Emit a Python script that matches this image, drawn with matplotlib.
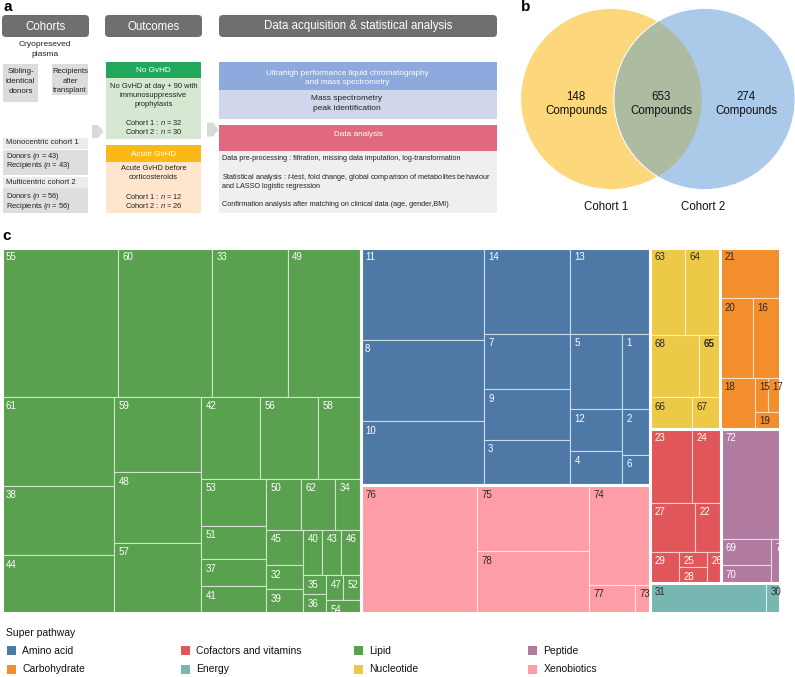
import matplotlib.pyplot as plt
from matplotlib.patches import Rectangle, Circle, FancyBboxPatch, Polygon

plt.rcParams['font.family'] = ['Liberation Sans', 'DejaVu Sans']
plt.rcParams['mathtext.fontset'] = 'custom'
plt.rcParams['mathtext.rm'] = 'Liberation Sans'
plt.rcParams['mathtext.it'] = 'Liberation Sans:italic'

W, H = 795, 677

# panel b : compounds detected per cohort
venn_counts = [148, 653, 274]
venn_names = ['Cohort 1', 'Cohort 2']

# panel c : number of compounds per sub pathway, grouped by super pathway
pathways = ['Lipid', 'Amino acid', 'Xenobiotics', 'Nucleotide', 'Carbohydrate',
            'Cofactors and vitamins', 'Peptide', 'Energy']
sub_ids = [
    [55, 60, 33, 49, 61, 38, 44, 59, 48, 57, 42, 56, 58, 53, 51, 37, 41, 50, 62, 34,
     45, 32, 39, 40, 43, 46, 35, 36, 47, 52, 54],
    [11, 8, 10, 14, 13, 7, 9, 3, 5, 1, 12, 4, 2, 6],
    [76, 75, 78, 74, 77, 73],
    [63, 64, 68, 65, 66, 67],
    [21, 20, 16, 18, 15, 17, 19],
    [23, 24, 27, 22, 29, 25, 28, 26],
    [72, 69, 70, 71],
    [31, 30],
]
sub_counts = [
    [40, 32, 26, 25, 23, 18, 15, 15, 14, 14, 11, 11, 8, 7, 5, 4, 4, 4, 4, 3,
     3, 2, 2, 2, 2, 2, 1, 1, 1, 1, 1],
    [26, 23, 18, 17, 16, 11, 10, 9, 9, 5, 5, 4, 3, 2],
    [34, 17, 16, 14, 3, 1],
    [7, 7, 7, 3, 3, 2],
    [7, 6, 5, 4, 1, 1, 1],
    [7, 5, 5, 3, 2, 1, 1, 1],
    [15, 3, 2, 1],
    [8, 1],
]
legend_order = ['Amino acid', 'Carbohydrate', 'Cofactors and vitamins', 'Energy',
                'Lipid', 'Nucleotide', 'Peptide', 'Xenobiotics']

colors = {'Amino acid': '#4E79A7', 'Carbohydrate': '#F28E2B',
          'Cofactors and vitamins': '#E15759', 'Energy': '#76B7B2',
          'Lipid': '#59A14F', 'Nucleotide': '#EDC948', 'Peptide': '#B07AA1',
          'Xenobiotics': '#FF9DA7'}
dark_labels = {'Xenobiotics', 'Nucleotide', 'Carbohydrate', 'Energy'}

PHI = (1 + 5 ** 0.5) / 2


def squarify(values, x0, y0, x1, y1, ratio=PHI):
    # squarified treemap with golden ratio target (as d3.treemapSquarify)
    rects = []
    value = float(sum(values))
    i0, n = 0, len(values)
    while i0 < n:
        dx, dy = x1 - x0, y1 - y0
        s = values[i0]
        vmin = vmax = s
        alpha = max(dy / dx, dx / dy) / (value * ratio)
        beta = s * s * alpha
        min_ratio = max(vmax / beta, beta / vmin)
        i1 = i0 + 1
        while i1 < n:
            v = values[i1]
            s2 = s + v
            lo, hi = min(vmin, v), max(vmax, v)
            beta = s2 * s2 * alpha
            r = max(hi / beta, beta / lo)
            if r > min_ratio:
                break
            s, vmin, vmax, min_ratio = s2, lo, hi, r
            i1 += 1
        row = values[i0:i1]
        if dx < dy:
            h = dy * s / value
            xx = x0
            for v in row:
                w = dx * v / s
                rects.append((xx, y0, w, h))
                xx += w
            y0 += h
        else:
            w = dx * s / value
            yy = y0
            for v in row:
                hh = dy * v / s
                rects.append((x0, yy, w, hh))
                yy += hh
            x0 += w
        value -= s
        i0 = i1
    return rects


fig = plt.figure(figsize=(W / 100, H / 100), dpi=100)
ax = fig.add_axes([0, 0, 1, 1])
ax.set_xlim(0, W)
ax.set_ylim(H, 0)
ax.axis('off')


def box(x0, y0, x1, y1, fc, rnd=0):
    if rnd:
        p = FancyBboxPatch((x0, y0), x1 - x0, y1 - y0,
                           boxstyle=f'round,pad=0,rounding_size={rnd}', fc=fc, ec='none')
    else:
        p = Rectangle((x0, y0), x1 - x0, y1 - y0, fc=fc, ec='none')
    ax.add_patch(p)


def txt(x, y, s, size=5.4, color='#222222', ha='center', **kw):
    ax.text(x, y, s, fontsize=size, color=color, ha=ha, va='center', **kw)


# ---- panel a
for x0, x1, title in [(2, 89, 'Cohorts'), (105, 202, 'Outcomes'),
                      (219, 497, 'Data acquisition & statistical analysis')]:
    box(x0, 15, x1, 37, '#6f6f6f', rnd=4)
    txt((x0 + x1) / 2, 26.5, title, size=8.3, color='white')

txt(45, 45, 'Cryopreseved', size=6)
txt(45, 55, 'plasma', size=6)
box(3, 64, 38, 101.5, '#dcdcdc')
for y, s in zip([71.7, 81.7, 91.7], ['Sibling-', 'identical', 'donors']):
    txt(20.5, y, s, size=5.8)
box(52, 64, 88, 95, '#dcdcdc')
for y, s in zip([71.7, 81.2, 90], ['Recipients', 'after', 'transplant']):
    txt(70, y, s, size=5.5)

box(3, 138, 88, 149, '#ececec')
txt(5.7, 143, 'Monocentric cohort 1', size=5.6, ha='left')
box(3, 149.5, 88, 175, '#dedede')
txt(5.7, 156, 'Donors ($n$ = 43)', size=5.4, ha='left')
txt(5.7, 165.5, 'Recipients ($n$ = 43)', size=5.4, ha='left')
box(3, 176.5, 88, 187.5, '#ececec')
txt(5.7, 182.5, 'Multicentric cohort 2', size=5.6, ha='left')
box(3, 188, 88, 213, '#dedede')
txt(5.7, 196.8, 'Donors ($n$ = 56)', size=5.4, ha='left')
txt(5.7, 206.3, 'Recipients ($n$ = 56)', size=5.4, ha='left')

ax.add_patch(Polygon([(92, 125), (98, 125), (103.5, 131.5), (98, 138), (92, 138)],
                     fc='#d9d9d9', ec='none'))
ax.add_patch(Polygon([(207, 122.5), (213, 122.5), (218.5, 129.5), (213, 136.5), (207, 136.5)],
                     fc='#d9d9d9', ec='none'))

box(106, 62, 201, 78, '#21a95b')
txt(153.5, 70.5, 'No GvHD', size=5.9, color='white')
box(106, 78, 201, 139, '#d6e8d1')
for y, s in zip([86, 95.2, 104.3], ['No GvHD at day + 90 with', 'immunosuppressive', 'prophylaxis']):
    txt(153.5, y, s)
txt(154, 122.7, 'Cohort 1 : $n$ = 32')
txt(154, 132, 'Cohort 2 : $n$ = 30')
box(106, 145, 201, 162, '#fbb917')
txt(153.5, 154, 'Acute GvHD', size=5.9, color='white')
box(106, 162, 201, 213, '#fde6cd')
txt(153.5, 168.3, 'Acute GvHD before')
txt(153.5, 177.7, 'corticosteroids')
txt(154, 196.7, 'Cohort 1 : $n$ = 12')
txt(154, 206, 'Cohort 2 : $n$ = 26')

box(219, 62, 497, 90, '#8da9dd')
txt(347, 73.3, 'Ultrahigh performance liquid chromatography', size=5.9, color='white')
txt(347, 82.7, 'and mass spectrometry', size=5.9, color='white')
box(219, 90, 497, 119, '#d0d6eb')
txt(347, 98.7, 'Mass spectrometry', size=6)
txt(347, 108, 'peak identification', size=6)
box(219, 125, 497, 151, '#e0687f')
txt(358, 135, 'Data analysis', size=5.9, color='white')
box(219, 151, 497, 213, '#efefef')
txt(222, 159, 'Data pre-processing : filtration, missing data imputation, log-transformation',
    size=5.2, ha='left')
txt(222, 177.3, 'Statistical analysis : $t$-test, fold change, global comparison of metabolites behaviour',
    size=5.2, ha='left')
txt(222, 186.7, 'and LASSO logistic regression', size=5.2, ha='left')
txt(222, 205, 'Confirmation analysis after matching on clinical data (age, gender,BMI)',
    size=5.2, ha='left')

# ---- panel b
r = 90.5
c1 = Circle((611.2, 99), r, fc='#FDD77C', ec='white', lw=0.6)
c2 = Circle((704.5, 99), r, fc='#ABC9E8', ec='white', lw=0.6)
ax.add_patch(c1)
ax.add_patch(c2)
ov = Circle((704.5, 99), r, fc='#ADBBA1', ec='white', lw=0.6)
ax.add_patch(ov)
ov.set_clip_path(c1)
for xc, n in zip([576, 661.5, 746], venn_counts):
    txt(xc, 96.5, str(n), size=8.3, color='#111111')
    txt(xc, 111, 'Compounds', size=8.3, color='#111111')
for xc, name in zip([606, 703], venn_names):
    txt(xc, 207, name, size=8.3, color='#111111')

# panel letters
for x, y, s in [(3, 7, 'a'), (521, 7, 'b'), (2, 236, 'c')]:
    txt(x, y, s, size=11, color='black', ha='left', fontweight='bold')

# ---- panel c : treemap
tx0, tx1, ty0, ty1 = 1.5, 780.5, 247.5, 613
axc = fig.add_axes([tx0 / W, 1 - ty1 / H, (tx1 - tx0) / W, (ty1 - ty0) / H])
axc.set_xlim(0, tx1 - tx0)
axc.set_ylim(ty1 - ty0, 0)
axc.axis('off')

totals = [sum(c) for c in sub_counts]
groups = squarify(totals, 0, 0, tx1 - tx0, ty1 - ty0)
for name, ids, counts, (gx, gy, gw, gh) in zip(pathways, sub_ids, sub_counts, groups):
    col = colors[name]
    tcol = '#2a2a2a' if name in dark_labels else 'white'
    cells = squarify(counts, gx, gy, gx + gw, gy + gh)
    for sid, (cx, cy, cw, ch) in zip(ids, cells):
        axc.add_patch(Rectangle((cx, cy), cw, ch, fc=col, ec=(1, 1, 1, 0.55), lw=0.8))
        axc.text(cx + 4.5, cy + 4.5, str(sid), fontsize=7, color=tcol, ha='left', va='top',
                 fontweight='bold' if sid == 65 else 'normal')
    axc.add_patch(Rectangle((gx, gy), gw, gh, fill=False, ec='white', lw=2.2, clip_on=False))

# legend
txt(6, 633, 'Super pathway', size=7.5, color='#111111', ha='left')
for i, name in enumerate(legend_order):
    lx = [7, 181, 354, 528][i // 2]
    ly = [650.7, 669.3][i % 2]
    ax.add_patch(Rectangle((lx, ly - 4.5), 9.3, 9, fc=colors[name], ec='none'))
    txt(lx + 15.5, ly, name, size=7.5, color='#111111', ha='left')

fig.savefig('out.png', dpi=100)
